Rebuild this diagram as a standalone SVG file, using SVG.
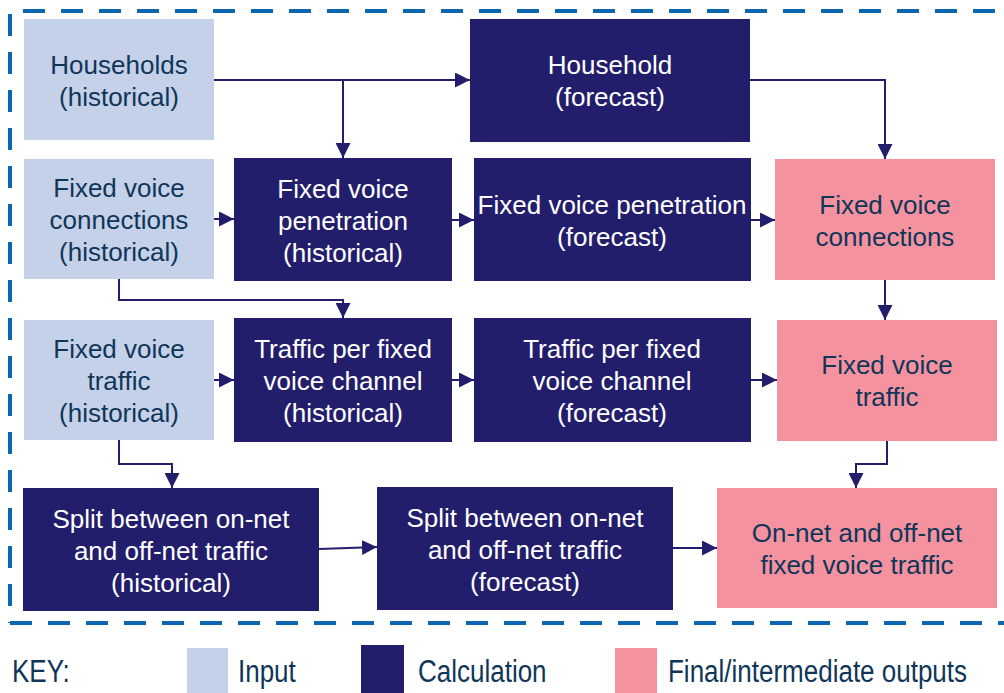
<svg xmlns="http://www.w3.org/2000/svg" width="1004" height="693" viewBox="0 0 1004 693">
<style>
.inp{fill:#c5d0e9}
.calc{fill:#231e6c}
.out{fill:#f4929f}
text{font-family:"Liberation Sans",Arial,sans-serif;font-size:26px;text-anchor:middle}
.dk{fill:#0f3658}
.wt{fill:#ffffff}
.key{text-anchor:start;fill:#0f3658}
.conn{fill:none;stroke:#231e6c;stroke-width:2;marker-end:url(#arr)}
.bord{fill:none;stroke:#0a67b0;stroke-width:4;stroke-dasharray:22 16}
</style>
<defs>
<marker id="arr" markerWidth="15" markerHeight="15" refX="15" refY="7.5" orient="auto" markerUnits="userSpaceOnUse">
<path d="M0,0 L15,7.5 L0,15 z" fill="#231e6c"/>
</marker>
</defs>
<rect width="1004" height="693" fill="#ffffff"/>
<g id="border">
<path class="bord" d="M23,11 H1004"/>
<path class="bord" d="M10,14 V623"/>
<path class="bord" d="M10,623 H1004"/>
</g>
<g id="households-hist"><rect class="inp" x="24" y="19" width="190" height="121"/><text class="dk" x="119" y="74">Households</text><text class="dk" x="119" y="106">(historical)</text></g>
<g id="household-fc"><rect class="calc" x="470" y="19" width="280" height="123"/><text class="wt" x="610" y="74">Household</text><text class="wt" x="610" y="106">(forecast)</text></g>
<g id="fvc-hist"><rect class="inp" x="24" y="159" width="190" height="120"/><text class="dk" x="119" y="197">Fixed voice</text><text class="dk" x="119" y="229">connections</text><text class="dk" x="119" y="261">(historical)</text></g>
<g id="pen-hist"><rect class="calc" x="234" y="158" width="218" height="123"/><text class="wt" x="343" y="198">Fixed voice</text><text class="wt" x="343" y="230">penetration</text><text class="wt" x="343" y="262">(historical)</text></g>
<g id="pen-fc"><rect class="calc" x="474" y="158" width="277" height="123"/><text class="wt" x="612" y="214">Fixed voice penetration</text><text class="wt" x="612" y="246">(forecast)</text></g>
<g id="fvc-out"><rect class="out" x="775" y="159" width="220" height="121"/><text class="dk" x="885" y="214">Fixed voice</text><text class="dk" x="885" y="246">connections</text></g>
<g id="fvt-hist"><rect class="inp" x="24" y="320" width="190" height="120"/><text class="dk" x="119" y="358">Fixed voice</text><text class="dk" x="119" y="390">traffic</text><text class="dk" x="119" y="422">(historical)</text></g>
<g id="tpc-hist"><rect class="calc" x="234" y="318" width="218" height="124"/><text class="wt" x="343" y="358">Traffic per fixed</text><text class="wt" x="343" y="390">voice channel</text><text class="wt" x="343" y="422">(historical)</text></g>
<g id="tpc-fc"><rect class="calc" x="474" y="318" width="277" height="124"/><text class="wt" x="612" y="358">Traffic per fixed</text><text class="wt" x="612" y="390">voice channel</text><text class="wt" x="612" y="422">(forecast)</text></g>
<g id="fvt-out"><rect class="out" x="777" y="320" width="220" height="121"/><text class="dk" x="887" y="374">Fixed voice</text><text class="dk" x="887" y="406">traffic</text></g>
<g id="split-hist"><rect class="calc" x="23" y="488" width="296" height="123"/><text class="wt" x="171" y="528">Split between on-net</text><text class="wt" x="171" y="560">and off-net traffic</text><text class="wt" x="171" y="592">(historical)</text></g>
<g id="split-fc"><rect class="calc" x="377" y="487" width="296" height="123"/><text class="wt" x="525" y="527">Split between on-net</text><text class="wt" x="525" y="559">and off-net traffic</text><text class="wt" x="525" y="591">(forecast)</text></g>
<g id="onoff-out"><rect class="out" x="717" y="488" width="280" height="120"/><text class="dk" x="857" y="542">On-net and off-net</text><text class="dk" x="857" y="574">fixed voice traffic</text></g>
<g id="connectors">
<path class="conn" d="M214,80 H470"/>
<path class="conn" d="M343,80 V158"/>
<path class="conn" d="M750,80 H885 V159"/>
<path class="conn" d="M214,219 H234"/>
<path class="conn" d="M452,220 H474"/>
<path class="conn" d="M751,220 H775"/>
<path class="conn" d="M119,279 V300 H343 V318"/>
<path class="conn" d="M885,280 V320"/>
<path class="conn" d="M214,380 H234"/>
<path class="conn" d="M452,380 H474"/>
<path class="conn" d="M751,380 H777"/>
<path class="conn" d="M119,440 V464 H172 V488"/>
<path class="conn" d="M887,441 V464 H856 V488"/>
<path class="conn" d="M319,549 L377,547"/>
<path class="conn" d="M673,548 H717"/>
</g>
<g id="key">
<text class="key" transform="translate(12,682) scale(1,1.2)">KEY:</text>
<rect class="inp" x="187" y="648" width="41" height="45"/>
<text class="key" transform="translate(238,682) scale(1,1.2)">Input</text>
<rect class="calc" x="361" y="645" width="43" height="48"/>
<text class="key" transform="translate(418,682) scale(1,1.2)">Calculation</text>
<rect class="out" x="615" y="648" width="42" height="45"/>
<text class="key" transform="translate(668,682) scale(1,1.2)">Final/intermediate outputs</text>
</g>
</svg>
